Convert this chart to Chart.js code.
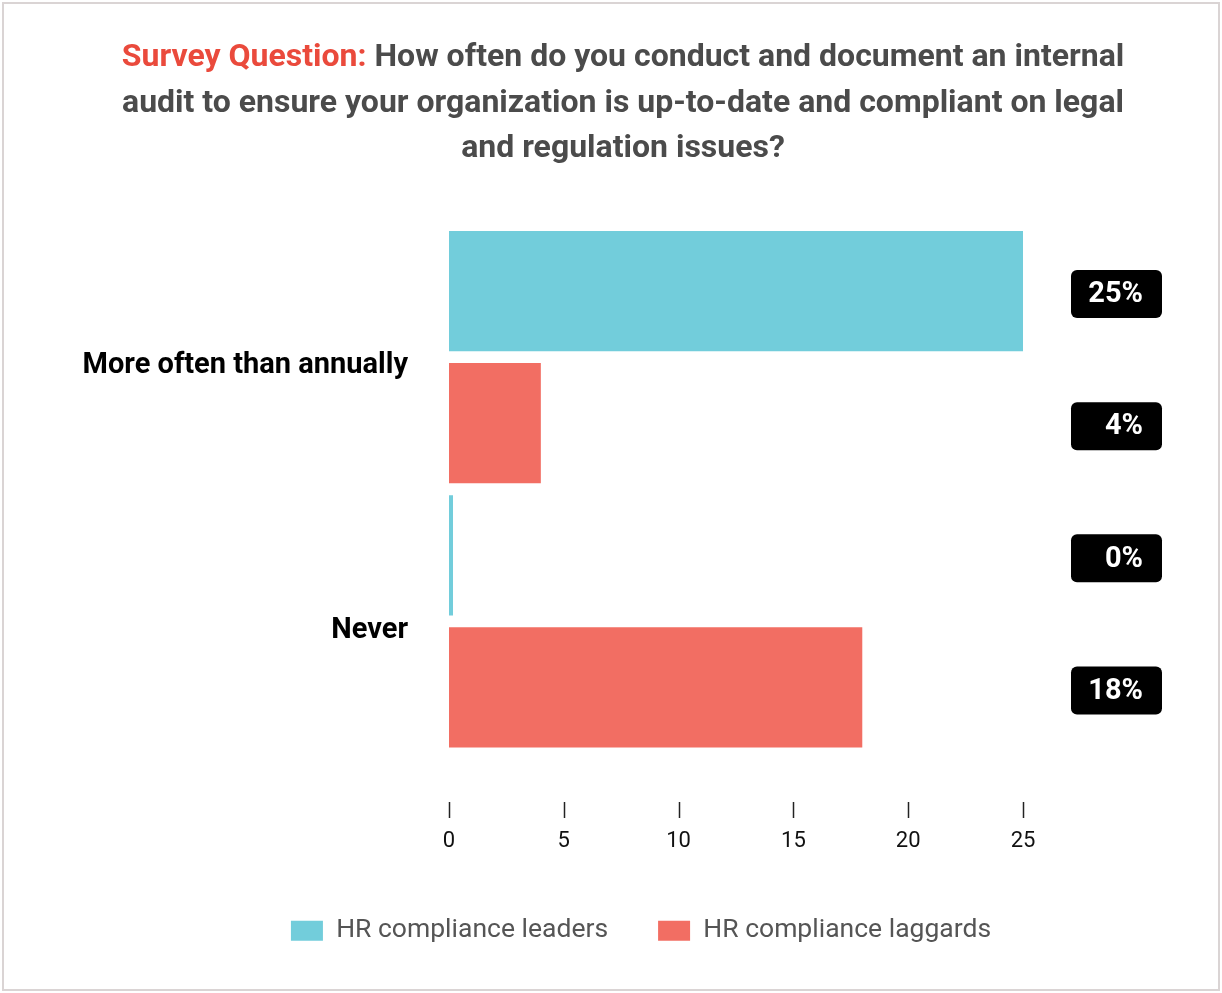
<!DOCTYPE html>
<html>
<head>
<meta charset="utf-8">
<script src="https://cdn.jsdelivr.net/npm/chart.js@4/dist/chart.umd.min.js"></script>
<style>
  html, body { margin: 0; padding: 0; background: #fff; }
  #wrap { position: relative; width: 1222px; height: 993px; }
  #frame {
    position: absolute; left: 2px; top: 2px; width: 1218px; height: 989px;
    border: 2px solid #dad4d4; box-sizing: border-box; pointer-events: none;
  }
  canvas { position: absolute; left: 0; top: 0; }
</style>
</head>
<body>
<div id="wrap">
  <canvas id="chart" width="1222" height="993"></canvas>
  <div id="frame"></div>
</div>
<script>
var categories = ['More often than annually', 'Never'];
var seriesNames = ['HR compliance leaders', 'HR compliance laggards'];
var leaders = [25, 0];
var laggards = [4, 18];
var xTicks = [0, 5, 10, 15, 20, 25];

var titleLead = 'Survey Question: ';
var titleLines = [
    'How often do you conduct and document an internal',
    'audit to ensure your organization is up-to-date and compliant on legal',
    'and regulation issues?'
];

var TEAL = '#72cddb';
var CORAL = '#f26e63';

// question text above the bars, first line starts with the red lead-in
var titlePlugin = {
    id: 'questionTitle',
    afterDraw: function (chart) {
        var ctx = chart.ctx;
        var cx = chart.width / 2 + 12;
        var ys = [58, 104, 149];
        ctx.save();
        ctx.font = 'bold 32px Roboto';
        ctx.textBaseline = 'middle';
        ctx.textAlign = 'left';
        titleLines.forEach(function (line, i) {
            var lead = i === 0 ? titleLead : '';
            var w1 = ctx.measureText(lead).width;
            var w2 = ctx.measureText(line).width;
            var x = cx - (w1 + w2) / 2;
            if (lead) {
                ctx.fillStyle = '#ea4a3c';
                ctx.fillText(lead, x, ys[i]);
            }
            ctx.fillStyle = '#4b4b4b';
            ctx.fillText(line, x + w1, ys[i]);
        });
        ctx.restore();
    }
};

// short tick marks sitting just above the x labels
var tickMarks = {
    id: 'tickMarks',
    afterDraw: function (chart) {
        var ctx = chart.ctx;
        var xs = chart.scales.x;
        ctx.save();
        ctx.strokeStyle = '#222';
        ctx.lineWidth = 1.5;
        xs.ticks.forEach(function (t) {
            var px = Math.round(xs.getPixelForValue(t.value)) + 0.5;
            ctx.beginPath();
            ctx.moveTo(px, 802);
            ctx.lineTo(px, 818);
            ctx.stroke();
        });
        ctx.restore();
    }
};

// black percentage badges to the right of every bar
var badges = {
    id: 'badges',
    afterDatasetsDraw: function (chart) {
        var ctx = chart.ctx;
        var left = chart.chartArea.right + 48;
        var w = 91, h = 48;
        ctx.save();
        ctx.font = 'bold 29px Roboto';
        ctx.textAlign = 'right';
        ctx.textBaseline = 'middle';
        chart.data.datasets.forEach(function (ds, di) {
            var meta = chart.getDatasetMeta(di);
            meta.data.forEach(function (bar, i) {
                var cy = bar.y + 3;
                ctx.fillStyle = '#000';
                ctx.beginPath();
                ctx.roundRect(left, cy - h / 2, w, h, 6);
                ctx.fill();
                ctx.fillStyle = '#fff';
                ctx.fillText(ds.data[i] + '%', left + w - 19, cy + 1);
            });
        });
        ctx.restore();
    }
};

var ctx = document.getElementById('chart').getContext('2d');
var chart = new Chart(ctx, {
    type: 'bar',
    data: {
        labels: categories,
        datasets: [{
            label: seriesNames[0],
            data: leaders,
            backgroundColor: TEAL,
            minBarLength: 4
        }, {
            label: seriesNames[1],
            data: laggards,
            backgroundColor: CORAL
        }]
    },
    options: {
        indexAxis: 'y',
        responsive: false,
        animation: false,
        events: [],
        datasets: {
            bar: { categoryPercentage: 1, barPercentage: 0.91 }
        },
        layout: {
            padding: { left: 60, right: 0, top: 225, bottom: 39 }
        },
        scales: {
            x: {
                min: 0,
                max: 25,
                afterBuildTicks: function (scale) {
                    scale.ticks = xTicks.map(function (v) { return { value: v }; });
                },
                afterFit: function (scale) { scale.height = 114; },
                grid: { display: false, drawTicks: false },
                border: { display: false },
                ticks: {
                    padding: 75,
                    color: '#111',
                    font: { family: 'Roboto', size: 22 }
                }
            },
            y: {
                afterFit: function (scale) { scale.width = 389; },
                grid: { display: false, drawTicks: false },
                border: { display: false },
                ticks: {
                    padding: 41,
                    labelOffset: 9,
                    color: '#000',
                    font: { family: 'Roboto', size: 29, weight: 'bold' }
                }
            },
            // empty right-hand axis that keeps room for the value badges
            yBadges: {
                type: 'category',
                position: 'right',
                afterFit: function (scale) { scale.width = 199; },
                grid: { display: false, drawTicks: false },
                border: { display: false },
                ticks: { display: false }
            }
        },
        plugins: {
            legend: {
                position: 'bottom',
                labels: {
                    boxWidth: 32,
                    boxHeight: 20,
                    padding: 50,
                    color: '#555',
                    font: { family: 'Roboto', size: 26.5 }
                }
            },
            tooltip: { enabled: false }
        }
    },
    plugins: [titlePlugin, tickMarks, badges]
});
</script>
</body>
</html>
